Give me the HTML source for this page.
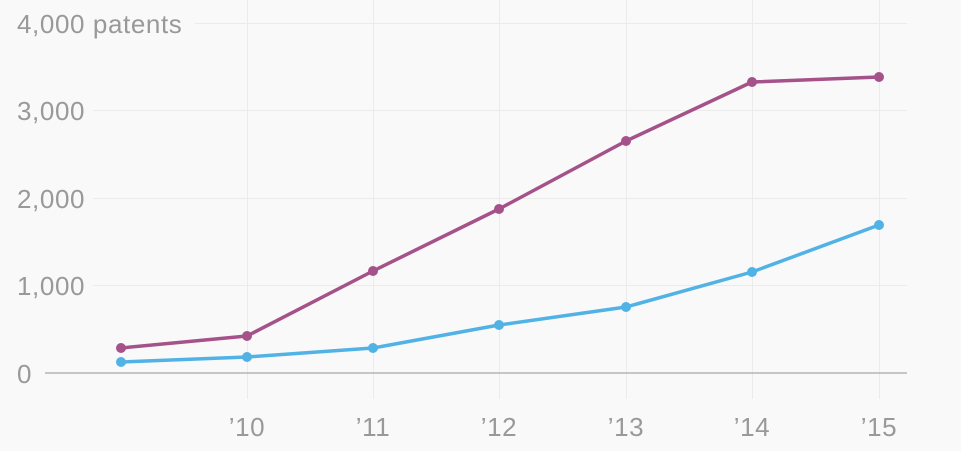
<!DOCTYPE html>
<html><head><style>
html,body{margin:0;padding:0;background:#f9f9f9;}
svg{display:block;}
text{font-family:"Liberation Sans",sans-serif;fill:#999;font-size:26px;letter-spacing:0.6px;}
</style></head><body>
<svg width="961" height="451" viewBox="0 0 961 451">
<rect width="961" height="451" fill="#f9f9f9"/>
<g stroke="#ebebeb" stroke-width="1">
<line x1="247.5" y1="0" x2="247.5" y2="399"/>
<line x1="373.5" y1="0" x2="373.5" y2="399"/>
<line x1="499.5" y1="0" x2="499.5" y2="399"/>
<line x1="626.5" y1="0" x2="626.5" y2="399"/>
<line x1="752.5" y1="0" x2="752.5" y2="399"/>
<line x1="879.5" y1="0" x2="879.5" y2="399"/>
<line x1="195" y1="23.5" x2="907" y2="23.5"/>
<line x1="93" y1="110.5" x2="907" y2="110.5"/>
<line x1="93" y1="198.5" x2="907" y2="198.5"/>
<line x1="93" y1="285.5" x2="907" y2="285.5"/>
</g>
<line x1="45" y1="373" x2="907" y2="373" stroke="#a8a8a8" stroke-width="1.3"/>
<text x="17" y="33">4,000 patents</text>
<text x="17" y="120">3,000</text>
<text x="17" y="208">2,000</text>
<text x="17" y="295">1,000</text>
<text x="17" y="383">0</text>
<g text-anchor="middle">
<text x="247" y="436">’10</text>
<text x="373" y="436">’11</text>
<text x="499" y="436">’12</text>
<text x="626" y="436">’13</text>
<text x="752" y="436">’14</text>
<text x="879" y="436">’15</text>
</g>
<polyline fill="none" stroke="#a5528a" stroke-width="3.5" stroke-linejoin="round" points="121,348 247,336 373,271 499,209 626,141 752,82 879,77"/>
<polyline fill="none" stroke="#51b2e5" stroke-width="3.5" stroke-linejoin="round" points="121,362 247,357 373,348 499,325 626,307 752,272 879,225"/>
<g fill="#a5528a">
<circle cx="121" cy="348" r="5"/><circle cx="247" cy="336" r="5"/><circle cx="373" cy="271" r="5"/><circle cx="499" cy="209" r="5"/><circle cx="626" cy="141" r="5"/><circle cx="752" cy="82" r="5"/><circle cx="879" cy="77" r="5"/>
</g>
<g fill="#51b2e5">
<circle cx="121" cy="362" r="5"/><circle cx="247" cy="357" r="5"/><circle cx="373" cy="348" r="5"/><circle cx="499" cy="325" r="5"/><circle cx="626" cy="307" r="5"/><circle cx="752" cy="272" r="5"/><circle cx="879" cy="225" r="5"/>
</g>
</svg>
</body></html>
